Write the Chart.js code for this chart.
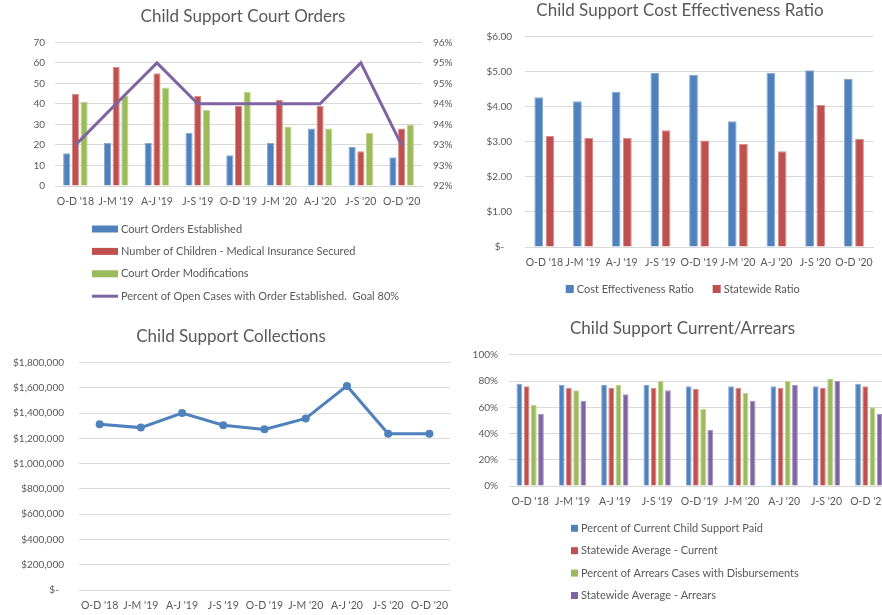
<!DOCTYPE html>
<html>
<head>
<meta charset="utf-8">
<title>Child Support Dashboard</title>
<script src="https://cdn.jsdelivr.net/npm/chart.js@4.4.0/dist/chart.umd.min.js"></script>
<style>
  html, body { margin: 0; padding: 0; background: #fff; overflow: hidden; }
  body { width: 882px; height: 615px; position: relative; }
  canvas { position: absolute; }
</style>
</head>
<body>
<canvas id="courtOrders" width="470" height="310" style="left:0;top:0"></canvas>
<canvas id="costRatio" width="412" height="310" style="left:470px;top:0"></canvas>
<canvas id="collections" width="460" height="305" style="left:0;top:310px"></canvas>
<canvas id="currentArrears" width="440" height="305" style="left:460px;top:310px"></canvas>
<script>
const quarters = ["O-D '18", "J-M '19", "A-J '19", "J-S '19", "O-D '19", "J-M '20", "A-J '20", "J-S '20", "O-D '20"];

// court orders
const ordersEstablished = [16, 21, 21, 26, 15, 21, 28, 19, 14];
const medicalInsurance = [45, 58, 55, 44, 39, 42, 39, 17, 28];
const orderModifications = [41, 44, 48, 37, 46, 29, 28, 26, 30];
const pctOrderEstablished = [93.14, 94.29, 95.43, 94.29, 94.29, 94.29, 94.29, 95.43, 93.14];

// cost effectiveness ($ collected per $ spent)
const costRatio = [4.27, 4.16, 4.43, 4.97, 4.91, 3.59, 4.97, 5.04, 4.79];
const statewideRatio = [3.17, 3.11, 3.12, 3.33, 3.04, 2.94, 2.73, 4.05, 3.09];

// collections
const collections = [1312000, 1286000, 1401000, 1305000, 1272000, 1359000, 1616000, 1238000, 1238000];

// current / arrears, percent
const currentPaid = [78, 77, 77, 77, 76, 76, 76, 76, 78];
const statewideCurrent = [76, 75, 75, 75, 74, 75, 75, 75, 76];
const arrearsDisbursed = [62, 73, 77, 80, 59, 71, 80, 82, 60];
const statewideArrears = [55, 65, 70, 73, 43, 65, 77, 80, 55];

const blue = '#4F81BD';
const red = '#C0504D';
const green = '#9BBB59';
const purple = '#8064A2';
// lighter edge round each bar, like the office theme
const edge = { [blue]: '#86a8d3', [red]: '#d68d8b', [green]: '#bcd392', [purple]: '#a693c1' };
const textColor = '#595959';
const gridColor = '#d9d9d9';
const xTickFont = { family: 'Lato', size: 10.5 };
const yTickFont = { family: 'Lato', size: 10 };
const titleFont = { family: 'Lato', size: 17, weight: 'normal' };

const barSet = (label, data, color) => ({
  label: label, data: data, backgroundColor: color, borderColor: edge[color], borderWidth: 1,
});

// Excel style legend: one item per row, or all items in one centred row
const listLegend = {
  id: 'listLegend',
  afterDraw(chart, args, opts) {
    if (opts.x === undefined) return;
    const ctx = chart.ctx;
    const sets = chart.data.datasets;
    ctx.save();
    ctx.font = '11px Lato';
    ctx.textBaseline = 'middle';
    ctx.textAlign = 'left';
    if (opts.direction === 'row') {
      const widths = sets.map(ds => opts.boxWidth + opts.textGap + ctx.measureText(ds.label).width);
      const total = widths.reduce((a, b) => a + b, 0) + opts.itemGap * (sets.length - 1);
      let x = opts.x - total / 2;
      sets.forEach((ds, i) => {
        drawLegendItem(ctx, ds, x, opts.y, opts);
        x += widths[i] + opts.itemGap;
      });
    } else {
      sets.forEach((ds, i) => drawLegendItem(ctx, ds, opts.x, opts.y + i * opts.rowHeight, opts));
    }
    ctx.restore();
  }
};

function drawLegendItem(ctx, ds, x, y, opts) {
  if (ds.type === 'line') {
    ctx.strokeStyle = ds.borderColor;
    ctx.lineWidth = ds.borderWidth;
    ctx.beginPath();
    ctx.moveTo(x, y);
    ctx.lineTo(x + opts.boxWidth, y);
    ctx.stroke();
  } else {
    ctx.fillStyle = ds.backgroundColor;
    ctx.fillRect(x, y - opts.boxHeight / 2, opts.boxWidth, opts.boxHeight);
  }
  ctx.fillStyle = textColor;
  ctx.fillText(ds.label, x + opts.boxWidth + opts.textGap, y);
}

// fixed axis sizes so the plot areas line up; tick labels may run past the
// axis box into the layout padding, so don't clip them to it
const fixWidth = w => scale => { scale.width = w; scale._computeLabelArea = () => null; };
const fixHeight = h => scale => { scale.height = h; };

function xAxis(height, offset) {
  return {
    offset: offset,
    grid: { display: false, drawTicks: false },
    border: { color: gridColor },
    ticks: { color: textColor, font: xTickFont, padding: 9, maxRotation: 0, autoSkip: false },
    afterFit: fixHeight(height),
  };
}

function yAxis(width, padding, extra) {
  return Object.assign({
    border: { display: false },
    afterFit: fixWidth(width),
  }, extra, {
    grid: Object.assign({ color: gridColor, drawTicks: false }, extra.grid),
    ticks: Object.assign({ color: textColor, font: yTickFont, padding: padding }, extra.ticks),
  });
}

function title(text, top, bottom) {
  return { display: true, text: text, color: textColor, font: titleFont, padding: { top: top, bottom: bottom } };
}

const basePlugins = { legend: { display: false }, tooltip: { enabled: false } };

// top left: bars + percentage line on a second axis
new Chart(document.getElementById('courtOrders'), {
  type: 'bar',
  data: {
    labels: quarters,
    datasets: [
      Object.assign(barSet('Court Orders Established', ordersEstablished, blue), { order: 1 }),
      Object.assign(barSet('Number of Children - Medical Insurance Secured', medicalInsurance, red), { order: 1 }),
      Object.assign(barSet('Court Order Modifications', orderModifications, green), { order: 1 }),
      {
        type: 'line', label: 'Percent of Open Cases with Order Established.  Goal 80%',
        data: pctOrderEstablished, yAxisID: 'y1', borderColor: purple, borderWidth: 3,
        pointRadius: 0, tension: 0, order: 0,
      },
    ],
  },
  options: {
    responsive: false,
    animation: false,
    layout: { padding: { left: 16, right: 0, top: 0, bottom: 100 } },
    datasets: { bar: { categoryPercentage: 0.64, barPercentage: 0.82 } },
    scales: {
      x: xAxis(24, true),
      y: yAxis(39, 10, { min: 0, max: 70, ticks: { stepSize: 10 } }),
      y1: yAxis(48, 11, {
        position: 'right', min: 92, max: 96, grid: { display: false },
        ticks: { count: 8, callback: v => Math.round(v) + '%' },
      }),
    },
    plugins: Object.assign({}, basePlugins, {
      title: title('Child Support Court Orders', 6, 16),
      listLegend: { x: 92, y: 229, rowHeight: 22.4, boxWidth: 26, boxHeight: 7, textGap: 3 },
    }),
  },
  plugins: [listLegend],
});

// top right: cost effectiveness
new Chart(document.getElementById('costRatio'), {
  type: 'bar',
  data: {
    labels: quarters,
    datasets: [
      barSet('Cost Effectiveness Ratio', costRatio, blue),
      barSet('Statewide Ratio', statewideRatio, red),
    ],
  },
  options: {
    responsive: false,
    animation: false,
    layout: { padding: { left: 16, right: 8, top: 0, bottom: 38 } },
    datasets: { bar: { categoryPercentage: 0.58, barPercentage: 0.78 } },
    scales: {
      x: xAxis(25, true),
      y: yAxis(39, 13, {
        min: 0, max: 6,
        ticks: { stepSize: 1, callback: v => v === 0 ? '$-   ' : '$' + v.toFixed(2) },
      }),
    },
    plugins: Object.assign({}, basePlugins, {
      title: title('Child Support Cost Effectiveness Ratio', 0, 16.3),
      listLegend: { direction: 'row', x: 212.7, y: 289, boxWidth: 8, boxHeight: 8, textGap: 3, itemGap: 19 },
    }),
  },
  plugins: [listLegend],
});

// bottom left: collections line
new Chart(document.getElementById('collections'), {
  type: 'line',
  data: {
    labels: quarters,
    datasets: [{
      label: 'Collections', data: collections, borderColor: blue, backgroundColor: blue,
      borderWidth: 3, pointRadius: 4, pointBorderWidth: 0, tension: 0,
    }],
  },
  options: {
    responsive: false,
    animation: false,
    layout: { padding: { left: 12, right: 10, top: 0, bottom: 2 } },
    scales: {
      x: xAxis(23, true),
      y: yAxis(67, 15, {
        min: 0, max: 1800000,
        ticks: { stepSize: 200000, callback: v => v === 0 ? '$-  ' : '$' + v.toLocaleString('en-US') },
      }),
    },
    plugins: Object.assign({}, basePlugins, {
      title: title('Child Support Collections', 16.5, 15.8),
    }),
  },
});

// bottom right: current and arrears percentages
new Chart(document.getElementById('currentArrears'), {
  type: 'bar',
  data: {
    labels: quarters,
    datasets: [
      barSet('Percent of Current Child Support Paid', currentPaid, blue),
      barSet('Statewide Average - Current', statewideCurrent, red),
      barSet('Percent of Arrears Cases with Disbursements', arrearsDisbursed, green),
      barSet('Statewide Average - Arrears', statewideArrears, purple),
    ],
  },
  options: {
    responsive: false,
    animation: false,
    layout: { padding: { left: 15, right: 10, top: 0, bottom: 105 } },
    datasets: { bar: { categoryPercentage: 0.68, barPercentage: 0.8 } },
    scales: {
      x: xAxis(24, true),
      y: yAxis(34, 11, { min: 0, max: 100, ticks: { stepSize: 20, callback: v => v + '%' } }),
    },
    plugins: Object.assign({}, basePlugins, {
      title: title('Child Support Current/Arrears', 8, 16.5),
      listLegend: { x: 111, y: 218.3, rowHeight: 22.4, boxWidth: 7, boxHeight: 7, textGap: 3 },
    }),
  },
  plugins: [listLegend],
});
</script>
</body>
</html>
